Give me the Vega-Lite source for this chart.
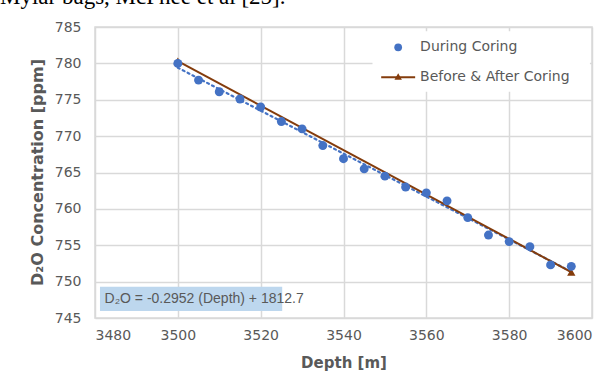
{
  "$schema": "https://vega.github.io/schema/vega-lite/v6.json",
  "width": 497,
  "height": 291,
  "autosize": "none",
  "padding": {"left": 95, "top": 27, "right": 21, "bottom": 54},
  "background": "white",
  "title": {"text": "Mylar bags, McPhee et al [25].", "anchor": "start", "frame": "group", "dx": -95, "dy": 20, "offset": 13, "baseline": "alphabetic", "font": "Liberation Serif", "fontSize": 23, "fontWeight": "normal", "color": "black"},
  "config": {
    "view": {"stroke": "#d9d9d9", "strokeWidth": 1.5},
    "axis": {"labelFont": "DejaVu Sans", "labelFontSize": 14, "labelColor": "#595959", "labelOverlap": false, "titleFont": "DejaVu Sans", "titleColor": "#595959", "titleFontSize": 15, "titleFontWeight": "bold", "gridColor": "#d9d9d9", "gridWidth": 1.5, "domain": false, "ticks": false}
  },
  "datasets": {
    "during": [
      {"depth": 3500, "ppm": 780.0},
      {"depth": 3505, "ppm": 777.7},
      {"depth": 3510, "ppm": 776.1},
      {"depth": 3515, "ppm": 775.1},
      {"depth": 3520, "ppm": 774.0},
      {"depth": 3525, "ppm": 772.0},
      {"depth": 3530, "ppm": 771.0},
      {"depth": 3535, "ppm": 768.7},
      {"depth": 3540, "ppm": 766.9},
      {"depth": 3545, "ppm": 765.5},
      {"depth": 3550, "ppm": 764.5},
      {"depth": 3555, "ppm": 763.0},
      {"depth": 3560, "ppm": 762.2},
      {"depth": 3565, "ppm": 761.1},
      {"depth": 3570, "ppm": 758.8},
      {"depth": 3575, "ppm": 756.4},
      {"depth": 3580, "ppm": 755.5},
      {"depth": 3585, "ppm": 754.8},
      {"depth": 3590, "ppm": 752.3},
      {"depth": 3595, "ppm": 752.1}
    ],
    "beforeafter": [
      {"depth": 3500, "ppm": 780.3},
      {"depth": 3595, "ppm": 751.3}
    ],
    "legendbox": [{"depth": 3547, "depth2": 3599.5, "ppm": 776.1, "ppm2": 784.4}],
    "legendpt": [{"depth": 3553.2, "ppm": 782.2}],
    "legendline": [{"depth": 3549.1, "ppm": 778.1}, {"depth": 3557.3, "ppm": 778.1}],
    "legendtri": [{"depth": 3553.2, "ppm": 778.2}],
    "legendtext": [{"depth": 3558.5, "ppm": 782.2, "label": "During Coring"}, {"depth": 3558.5, "ppm": 778.1, "label": "Before & After Coring"}],
    "eqbox": [{"depth": 3481.2, "depth2": 3525.2, "ppm": 745.95, "ppm2": 749.3}],
    "eqtext": [{"depth": 3482.3, "ppm": 747.6, "label": "D₂O = -0.2952 (Depth) + 1812.7"}]
  },
  "encoding": {
    "x": {"field": "depth", "type": "quantitative", "scale": {"domain": [3480, 3600], "nice": false}, "axis": {"values": [3480, 3500, 3520, 3540, 3560, 3580, 3600], "tickCount": 12, "format": "d", "title": "Depth [m]", "labelPadding": 10, "titlePadding": 13}},
    "y": {"field": "ppm", "type": "quantitative", "scale": {"domain": [745, 785], "nice": false, "zero": false}, "axis": {"values": [745, 750, 755, 760, 765, 770, 775, 780, 785], "tickCount": 12, "format": "d", "title": "D₂O Concentration [ppm]", "labelPadding": 14, "titleFontSize": 16, "titleX": -58, "titleY": 145, "titleAlign": "center", "titleBaseline": "middle", "titleAngle": -90}}
  },
  "layer": [
    {
      "data": {"name": "during"},
      "transform": [{"regression": "ppm", "on": "depth", "extent": [3500, 3595]}],
      "mark": {"type": "line", "color": "#4472C4", "strokeWidth": 2.2, "strokeDash": [2, 3.5], "strokeCap": "round"}
    },
    {
      "data": {"name": "beforeafter"},
      "mark": {"type": "line", "color": "#843C0C", "strokeWidth": 2}
    },
    {
      "data": {"name": "beforeafter"},
      "mark": {"type": "point", "shape": "triangle-up", "filled": true, "color": "#843C0C", "size": 70, "opacity": 1}
    },
    {
      "data": {"name": "during"},
      "mark": {"type": "circle", "color": "#4472C4", "size": 80, "opacity": 1}
    },
    {
      "data": {"name": "legendbox"},
      "mark": {"type": "rect", "color": "white"},
      "encoding": {"x2": {"field": "depth2"}, "y2": {"field": "ppm2"}}
    },
    {
      "data": {"name": "legendpt"},
      "mark": {"type": "circle", "color": "#4472C4", "size": 60, "opacity": 1}
    },
    {
      "data": {"name": "legendline"},
      "mark": {"type": "line", "color": "#843C0C", "strokeWidth": 2}
    },
    {
      "data": {"name": "legendtri"},
      "mark": {"type": "point", "shape": "triangle-up", "filled": true, "color": "#843C0C", "size": 55, "opacity": 1}
    },
    {
      "data": {"name": "legendtext"},
      "mark": {"type": "text", "align": "left", "baseline": "middle", "font": "DejaVu Sans", "fontSize": 14, "color": "#595959"},
      "encoding": {"text": {"field": "label"}}
    },
    {
      "data": {"name": "eqbox"},
      "mark": {"type": "rect", "color": "#BDD7EE"},
      "encoding": {"x2": {"field": "depth2"}, "y2": {"field": "ppm2"}}
    },
    {
      "data": {"name": "eqtext"},
      "mark": {"type": "text", "align": "left", "baseline": "middle", "font": "Liberation Sans", "fontSize": 14, "color": "#595959"},
      "encoding": {"text": {"field": "label"}}
    }
  ]
}
